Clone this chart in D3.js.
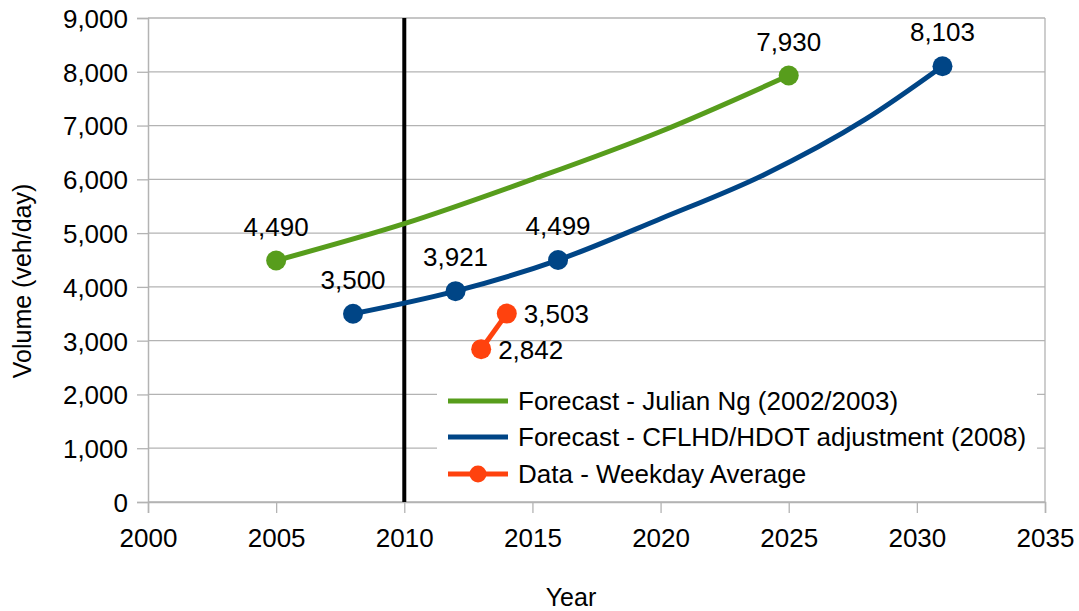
<!DOCTYPE html>
<html>
<head>
<meta charset="utf-8">
<script src="https://cdn.jsdelivr.net/npm/d3@7"></script>
<style>
  html, body { margin: 0; padding: 0; background: #fff; }
  svg { display: block; font-family: "Liberation Sans", Arial, sans-serif; }
</style>
</head>
<body>
<svg id="chart" width="1079" height="611"></svg>
<script>
// ---- Data ----
const xTicks = [2000, 2005, 2010, 2015, 2020, 2025, 2030, 2035];
const yTicks = [0, 1000, 2000, 3000, 4000, 5000, 6000, 7000, 8000, 9000];

// Forecast - Julian Ng (2002/2003): labeled end points plus points
const ngYears   = [2005, 2010, 2015, 2020, 2025];
const ngValues  = [4490, 5175, 6000, 6890, 7930];
const ngMarked  = [true, false, false, false, true];

// Forecast - CFLHD/HDOT adjustment (2008)
const cfYears   = [2008, 2012, 2016, 2020, 2024, 2028, 2031];
const cfValues  = [3500, 3921, 4499, 5268, 6078, 7119, 8103];
const cfMarked  = [true, true, true, false, false, false, true];

// Data - Weekday Average
const obsYears  = [2013, 2014];
const obsValues = [2842, 3503];

// Vertical reference line at 2010
const refYears  = [2010, 2010];
const refValues = [0, 9000];

const seriesNames = [
  "Forecast - Julian Ng (2002/2003)",
  "Forecast - CFLHD/HDOT adjustment (2008)",
  "Data - Weekday Average"
];
const colors = ["#579d1c", "#004586", "#ff420e"];

// ---- Layout ----
const svg = d3.select("#chart");
const pLeft = 148, pRight = 1045, pTop = 18, pBottom = 502;
const x = d3.scaleLinear().domain([2000, 2035]).range([pLeft, pRight]);
const y = d3.scaleLinear().domain([0, 9000]).range([pBottom, pTop]);
const fmt = d3.format(",");
const FS = 26;

// grid
svg.append("g").selectAll("line").data(yTicks).join("line")
  .attr("x1", pLeft).attr("x2", pRight)
  .attr("y1", d => y(d)).attr("y2", d => y(d))
  .attr("stroke", "#b3b3b3").attr("stroke-width", 1.3);

// plot border (right side)
svg.append("line").attr("x1", pRight).attr("x2", pRight).attr("y1", pTop).attr("y2", pBottom)
  .attr("stroke", "#b3b3b3").attr("stroke-width", 1.3);

// axes
const yAxis = d3.axisLeft(y).tickValues(yTicks).tickFormat(fmt).tickSize(11).tickPadding(9);
const gy = svg.append("g").attr("transform", `translate(${pLeft},0)`).call(yAxis);
const xAxis = d3.axisBottom(x).tickValues(xTicks).tickFormat(d3.format("d")).tickSize(11).tickPadding(16);
const gx = svg.append("g").attr("transform", `translate(0,${pBottom})`).call(xAxis);
[gx, gy].forEach(g => {
  g.select(".domain").attr("stroke", "#b3b3b3").attr("stroke-width", 1.5);
  g.selectAll(".tick line").attr("stroke", "#b3b3b3").attr("stroke-width", 1.3);
  g.selectAll(".tick text").attr("fill", "#000").attr("font-size", FS)
    .attr("font-family", "'Liberation Sans', Arial, sans-serif");
});
gy.selectAll(".tick text").attr("dy", "0.36em");

// axis titles
svg.append("text").attr("x", 571).attr("y", 606).attr("text-anchor", "middle")
  .attr("font-size", 25).attr("fill", "#000").text("Year");
svg.append("text").attr("transform", `translate(31,${(pTop + pBottom) / 2 + 21}) rotate(-90)`)
  .attr("text-anchor", "middle").attr("font-size", 25).attr("fill", "#000")
  .text("Volume (veh/day)");

// reference line
svg.append("line")
  .attr("x1", x(refYears[0])).attr("x2", x(refYears[1]))
  .attr("y1", y(refValues[0])).attr("y2", y(refValues[1]))
  .attr("stroke", "#000").attr("stroke-width", 4);

// series
const line = d3.line().x(d => x(d[0])).y(d => y(d[1])).curve(d3.curveMonotoneX);
const R = 10;

function drawSeries(years, values, marked, color, labelPos) {
  const pts = years.map((yr, i) => [yr, values[i], marked[i]]);
  svg.append("path").datum(pts).attr("d", line)
    .attr("fill", "none").attr("stroke", color).attr("stroke-width", 5)
    .attr("stroke-linejoin", "round");
  const m = pts.filter(p => p[2]);
  svg.append("g").selectAll("circle").data(m).join("circle")
    .attr("cx", d => x(d[0])).attr("cy", d => y(d[1])).attr("r", R).attr("fill", color);
  svg.append("g").selectAll("text").data(m).join("text")
    .attr("font-size", FS).attr("fill", "#000")
    .attr("x", d => labelPos === "right" ? x(d[0]) + 17 : x(d[0]))
    .attr("y", d => labelPos === "right" ? y(d[1]) : y(d[1]) - 25)
    .attr("dy", labelPos === "right" ? "0.36em" : 0)
    .attr("text-anchor", labelPos === "right" ? "start" : "middle")
    .text(d => fmt(d[1]));
}
drawSeries(ngYears, ngValues, ngMarked, colors[0], "above");
drawSeries(cfYears, cfValues, cfMarked, colors[1], "above");
drawSeries(obsYears, obsValues, obsYears.map(() => true), colors[2], "right");

// legend
const lg = svg.append("g");
lg.append("rect").attr("x", 437).attr("y", 378).attr("width", 600).attr("height", 118).attr("fill", "#fff");
const rowY = [401, 437, 474];
seriesNames.forEach((name, i) => {
  lg.append("line").attr("x1", 448).attr("x2", 508).attr("y1", rowY[i]).attr("y2", rowY[i])
    .attr("stroke", colors[i]).attr("stroke-width", 5);
  if (i === 2) lg.append("circle").attr("cx", 478).attr("cy", rowY[i]).attr("r", 8.5).attr("fill", colors[i]);
  lg.append("text").attr("x", 518).attr("y", rowY[i]).attr("dy", "0.36em")
    .attr("font-size", FS).attr("fill", "#000").text(name);
});
</script>
</body>
</html>
